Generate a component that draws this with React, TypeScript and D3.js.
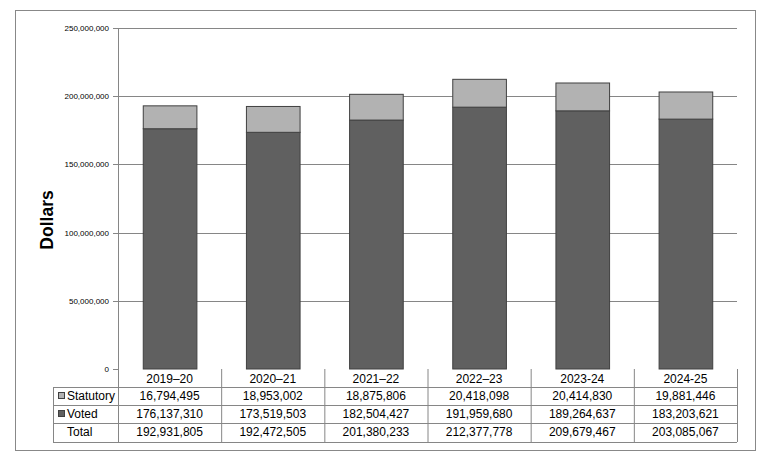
import React from "react";
import * as d3 from "d3";

const years = ["2019–20", "2020–21", "2021–22", "2022–23", "2023-24", "2024-25"];
const statutory = [16794495, 18953002, 18875806, 20418098, 20414830, 19881446];
const voted = [176137310, 173519503, 182504427, 191959680, 189264637, 183203621];
const totals = [192931805, 192472505, 201380233, 212377778, 209679467, 203085067];
const yTicks = [0, 50000000, 100000000, 150000000, 200000000, 250000000];

const W = 765, H = 464;
const left = 118, right = 737, top = 28, bottom = 369;
const rowYs = [369, 387, 405, 423, 442];
const votedColor = "#606060", statColor = "#b2b2b2";
const fmt = d3.format(",");

export default function App() {
  const x = d3.scaleBand<string>().domain(years).range([left, right]).paddingInner(0.48).paddingOuter(0.24);
  const xCol = d3.scaleBand<string>().domain(years).range([left, right]);
  const y = d3.scaleLinear().domain([0, 250000000]).range([bottom, top]);
  const font = "'Liberation Sans', Arial, sans-serif";
  const rows = [
    { label: "Statutory", color: statColor, vals: statutory },
    { label: "Voted", color: votedColor, vals: voted },
    { label: "Total", color: null, vals: totals },
  ];
  return (
    <svg width={W} height={H} style={{ position: "absolute", left: 0, top: 0 }} fontFamily={font}>
      <rect x={0} y={0} width={W} height={H} fill="#fff" />
      <rect x={15.5} y={10.5} width={740} height={440} fill="none" stroke="#888" strokeWidth={1} />
      {yTicks.map((t) => (
        <g key={t}>
          <line x1={113} x2={t === 0 ? left : right} y1={Math.round(y(t)) + 0.5} y2={Math.round(y(t)) + 0.5} stroke="#868686" />
          <text x={109} y={y(t) + 3} fontSize={8} textAnchor="end" fill="#000">{fmt(t)}</text>
        </g>
      ))}
      <line x1={left + 0.5} x2={left + 0.5} y1={top} y2={442} stroke="#868686" />
      <text transform={`translate(53,220) rotate(-90)`} textAnchor="middle" fontSize={17.5} fontWeight="bold">Dollars</text>
      {years.map((yr, i) => (
        <g key={yr}>
          <rect x={x(yr)! + 0.5} y={y(voted[i])} width={x.bandwidth()} height={y(0) - y(voted[i])} fill={votedColor} stroke="#404040" strokeWidth={1} />
          <rect x={x(yr)! + 0.5} y={y(voted[i] + statutory[i])} width={x.bandwidth()} height={y(voted[i]) - y(voted[i] + statutory[i])} fill={statColor} stroke="#404040" strokeWidth={1} />
        </g>
      ))}
      {rowYs.slice(1).map((ry) => (
        <line key={ry} x1={53} x2={right} y1={ry + 0.5} y2={ry + 0.5} stroke="#868686" />
      ))}
      <line x1={53.5} x2={53.5} y1={387} y2={442} stroke="#868686" />
      {years.map((yr) => (
        <line key={yr} x1={xCol(yr)! + xCol.bandwidth() + 0.5} x2={xCol(yr)! + xCol.bandwidth() + 0.5} y1={369} y2={442} stroke="#868686" />
      ))}
      {years.map((yr) => (
        <text key={yr} x={xCol(yr)! + xCol.bandwidth() / 2} y={383} fontSize={12} textAnchor="middle">{yr}</text>
      ))}
      {rows.map((r, ri) => (
        <g key={r.label}>
          {r.color ? <rect x={58.5} y={rowYs[ri + 1] + 5.5} width={6} height={6} fill={r.color} stroke="#404040" /> : null}
          <text x={67} y={rowYs[ri + 1] + 13} fontSize={12}>{r.label}</text>
          {r.vals.map((v, i) => (
            <text key={i} x={xCol(years[i])! + xCol.bandwidth() / 2} y={rowYs[ri + 1] + 13} fontSize={12} textAnchor="middle">{fmt(v)}</text>
          ))}
        </g>
      ))}
    </svg>
  );
}
